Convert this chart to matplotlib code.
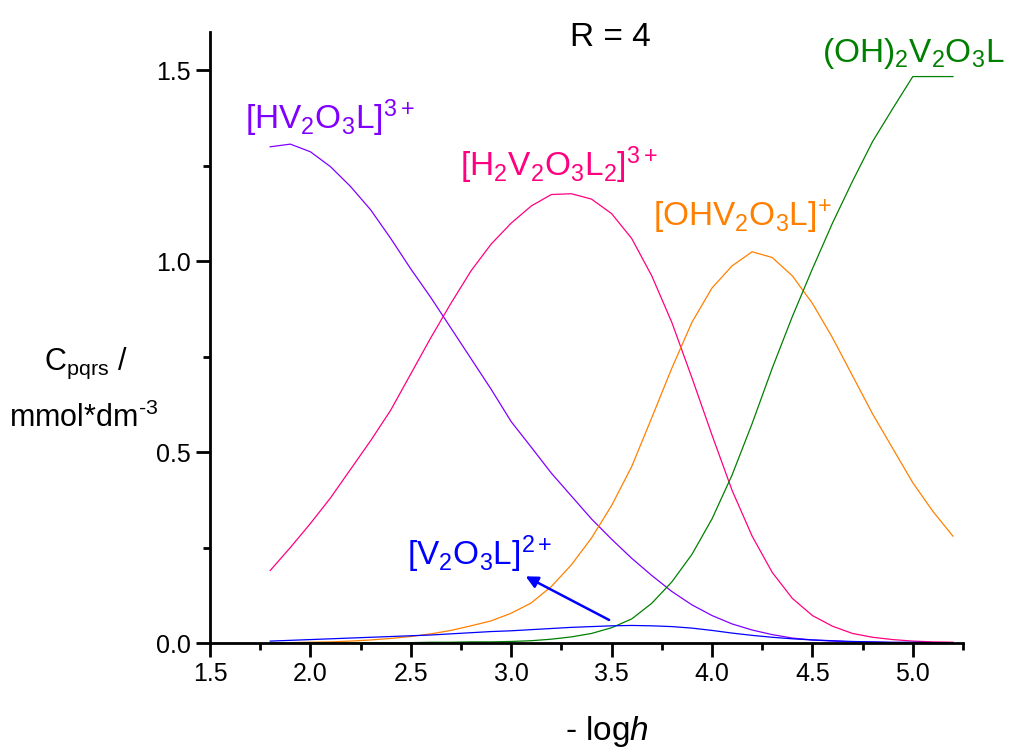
import numpy as np
import matplotlib
matplotlib.use("Agg")
import matplotlib.pyplot as plt

plt.rcParams['font.family'] = ['Liberation Sans', 'DejaVu Sans']
plt.rcParams['mathtext.fontset'] = 'custom'
plt.rcParams['mathtext.rm'] = 'Liberation Sans'
plt.rcParams['mathtext.it'] = 'Liberation Sans:italic'

# -log h values
logh = [1.8, 1.9, 2.0, 2.1, 2.2, 2.3, 2.4, 2.5, 2.6, 2.7, 2.8, 2.9, 3.0, 3.1, 3.2, 3.3, 3.4,
        3.5, 3.6, 3.7, 3.8, 3.9, 4.0, 4.1, 4.2, 4.3, 4.4, 4.5, 4.6, 4.7, 4.8, 4.9, 5.0, 5.1, 5.2]

# concentrations, mmol/dm3
hv2o3l = [1.300, 1.307, 1.287, 1.248, 1.196, 1.135, 1.060, 0.980, 0.905, 0.825, 0.745, 0.665,
          0.580, 0.513, 0.445, 0.385, 0.325, 0.272, 0.222, 0.177, 0.135, 0.100, 0.072, 0.050,
          0.034, 0.022, 0.013, 0.008, 0.005, 0.003, 0.002, 0.001, 0.001, 0.000, 0.000]
h2v2o3l2 = [0.190, 0.250, 0.313, 0.380, 0.455, 0.530, 0.610, 0.705, 0.800, 0.890, 0.975, 1.045,
            1.100, 1.145, 1.175, 1.177, 1.163, 1.125, 1.060, 0.962, 0.840, 0.695, 0.545, 0.400,
            0.280, 0.185, 0.117, 0.072, 0.044, 0.025, 0.015, 0.009, 0.005, 0.003, 0.002]
ohv2o3l = [0.000, 0.001, 0.002, 0.003, 0.005, 0.008, 0.012, 0.017, 0.024, 0.033, 0.045, 0.058,
           0.078, 0.105, 0.148, 0.205, 0.275, 0.360, 0.462, 0.590, 0.720, 0.840, 0.930, 0.988,
           1.025, 1.010, 0.962, 0.890, 0.800, 0.700, 0.600, 0.510, 0.420, 0.345, 0.280]
oh2v2o3l = [0.000, 0.000, 0.000, 0.000, 0.000, 0.001, 0.001, 0.001, 0.002, 0.002, 0.003, 0.003,
            0.004, 0.006, 0.010, 0.016, 0.025, 0.040, 0.063, 0.104, 0.160, 0.232, 0.325, 0.440,
            0.575, 0.720, 0.855, 0.980, 1.100, 1.210, 1.314, 1.400, 1.484, 1.484, 1.484]
v2o3l = [0.005, 0.007, 0.009, 0.011, 0.013, 0.015, 0.017, 0.019, 0.021, 0.024, 0.027, 0.030,
         0.032, 0.035, 0.038, 0.041, 0.043, 0.045, 0.046, 0.045, 0.043, 0.039, 0.033, 0.026,
         0.020, 0.015, 0.011, 0.008, 0.006, 0.004, 0.003, 0.002, 0.002, 0.001, 0.001]

fig = plt.figure(figsize=(10.11, 7.51), dpi=100)
ax = fig.add_axes([0.2077, 0.1438, 0.7448, 0.8132])

ax.plot(logh, hv2o3l, color='#8000ff', lw=0.9)
ax.plot(logh, h2v2o3l2, color='#ff0080', lw=0.9)
ax.plot(logh, ohv2o3l, color='#ff8000', lw=0.9)
ax.plot(logh, oh2v2o3l, color='#008000', lw=0.9)
ax.plot(logh, v2o3l, color='#0000ff', lw=0.9)

fs = 24
ax.text(1.675, 1.346, r'$[\mathrm{HV_2O_3L}]^{3+}$', color='#8000ff', fontsize=fs)
ax.text(2.746, 1.223, r'$[\mathrm{H_2V_2O_3L_2}]^{3+}$', color='#ff0080', fontsize=fs)
ax.text(3.708, 1.092, r'$[\mathrm{OHV_2O_3L}]^{+}$', color='#ff8000', fontsize=fs)
ax.text(4.55, 1.523, r'$\mathrm{(OH)_2V_2O_3L}$', color='#008000', fontsize=fs, clip_on=False)
ax.text(2.482, 0.204, r'$[\mathrm{V_2O_3L}]^{2+}$', color='#0000ff', fontsize=fs)
ax.text(3.295, 1.563, 'R = 4', color='black', fontsize=24)

ax.annotate('', xy=(3.06, 0.178), xytext=(3.5, 0.057),
            arrowprops=dict(arrowstyle='-|>', color='#0000ff', lw=1.8, mutation_scale=18))

ax.set_xlim(1.5, 5.25)
ax.set_ylim(0, 1.6)
ax.set_xticks([1.5, 2.0, 2.5, 3.0, 3.5, 4.0, 4.5, 5.0])
ax.set_xticks(np.arange(1.75, 5.3, 0.5), minor=True)
ax.set_yticks([0.0, 0.5, 1.0, 1.5])
ax.set_yticks([0.25, 0.75, 1.25], minor=True)
ax.xaxis.set_major_formatter(matplotlib.ticker.FormatStrFormatter('%.1f'))
ax.yaxis.set_major_formatter(matplotlib.ticker.FormatStrFormatter('%.1f'))

for s in ['top', 'right']:
    ax.spines[s].set_visible(False)
for s in ['left', 'bottom']:
    ax.spines[s].set_linewidth(2)
ax.tick_params(which='major', direction='out', length=10, width=2, labelsize=18)
ax.tick_params(which='minor', direction='out', length=5, width=2)

fig.text(0.085, 0.508, r'C$_{\mathrm{pqrs}}$ /', fontsize=22, ha='center', va='baseline')
fig.text(0.083, 0.432, r'mmol*dm$^{\text{-3}}$', fontsize=22, ha='center', va='baseline')
fig.text(0.559, 0.014, r'- log$\it{h}$', fontsize=24, ha='left', va='baseline')

fig.savefig('out.png', dpi=100)
